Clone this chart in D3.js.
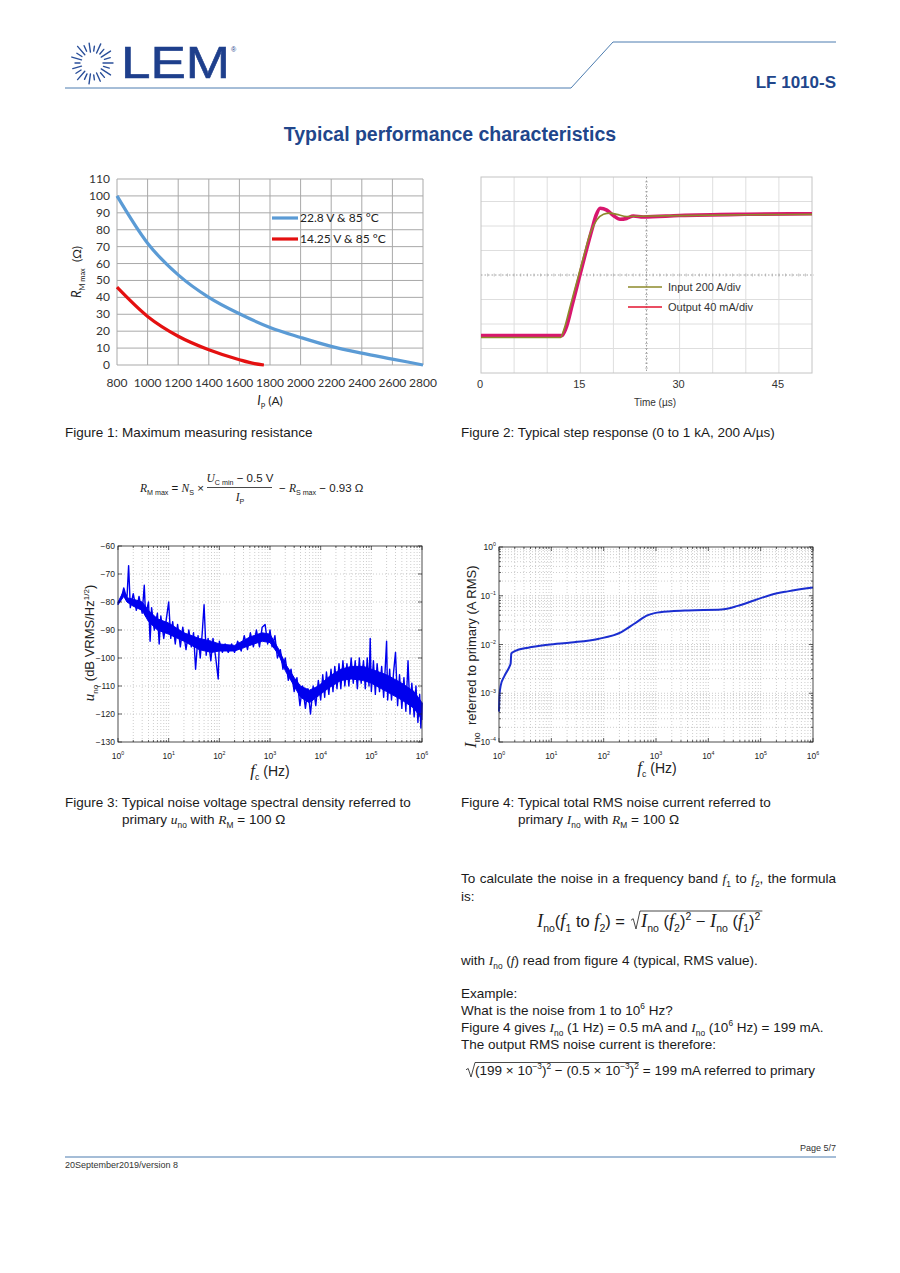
<!DOCTYPE html>
<html>
<head>
<meta charset="utf-8">
<script src="https://cdn.jsdelivr.net/npm/d3@7"></script>
<style>
  body { margin: 0; background: #fff; }
  svg { display: block; }
  text { white-space: pre; }
</style>
</head>
<body>
<div id="page"></div>
<script>
const SANS = "'Liberation Sans', Arial, sans-serif";
const SERIF = "'Liberation Serif', 'Times New Roman', serif";
const CAL = "Lato, 'Open Sans', sans-serif";
const NAVY = "#21468b";
const RULE = "#4d7db0";
const INK = "#1a1a1a";

// ---------- figure 1 : max measuring resistance
const ipBlue = [800, 1000, 1200, 1400, 1600, 1800, 2000, 2200, 2400, 2600, 2800];
const rmBlue = [100, 72, 53.3, 40, 30.3, 22.2, 16.3, 11, 7, 3.5, 0];
const ipRed = [800, 1000, 1200, 1400, 1600, 1700, 1760];
const rmRed = [46, 28.7, 17, 9, 3.1, 0.8, 0];
const fig1Legend = ["22.8 V & 85 °C", "14.25 V & 85 °C"];
const fig1XTicks = [800, 1000, 1200, 1400, 1600, 1800, 2000, 2200, 2400, 2600, 2800];
const fig1YTicks = [0, 10, 20, 30, 40, 50, 60, 70, 80, 90, 100, 110];

// ---------- figure 2 : step response (input in A, output scaled to the same divisions)
const stepTIn = [0, 12.0, 12.5, 13.5, 14.5, 15.5, 16.5, 17.5, 18.5, 19.5, 20.5, 22, 24, 30, 40, 50];
const inputA = [-10, -10, 50, 250, 450, 650, 840, 950, 995, 1005, 995, 978, 980, 985, 992, 995];
const stepTOut = [0, 12.2, 12.8, 13.8, 14.8, 15.8, 16.8, 17.4, 18.0, 19.0, 20.0, 21.0, 22.0, 23.0, 24.5, 30, 40, 50];
const outputA = [5, 5, 60, 260, 470, 680, 880, 990, 1045, 1030, 985, 955, 962, 982, 974, 986, 996, 1000];
const fig2XTicks = [0, 15, 30, 45];
const fig2Legend = ["Input 200 A/div", "Output 40 mA/div"];

// ---------- figure 3 : noise voltage spectral density, read as a zig-zag trace
const noiseF = [
  1, 1.15, 1.3, 1.5, 1.62, 1.75, 2.0, 2.3, 2.6, 3.0, 3.3, 3.5, 4.0, 4.3, 4.6, 5.2, 6.0, 6.5, 7.0, 8.0, 9.0,
  10, 11, 12, 13.5, 15, 17, 19, 22, 25, 28, 31, 34, 38, 42, 46, 50, 55, 60, 68, 75, 85, 95,
  100, 115, 130, 150, 175, 200, 230, 270, 310, 360, 410, 470, 540, 620, 700, 800, 900,
  1000, 1100, 1250, 1400, 1600, 1800, 2000, 2300, 2600, 3000, 3400, 3900, 4400, 5000, 5600, 6300, 7100, 8000, 9000,
  10000, 11000, 12000, 13000, 14500, 16000, 17500, 19000, 21000, 23000, 25000, 27500, 30000, 33000, 36000,
  40000, 44000, 48000, 53000, 58000, 63000, 70000, 76000, 83000, 90000, 95000,
  100000, 110000, 120000, 130000, 145000, 160000, 175000, 190000, 200000, 210000, 230000, 250000, 275000,
  300000, 330000, 360000, 400000, 440000, 480000, 530000, 580000, 630000, 700000, 760000, 830000, 900000,
  950000, 1000000];
const noiseDb = [
  -80.5, -79, -75, -79, -67, -82, -77, -83, -78, -84, -74, -85, -80, -94, -82, -90, -84, -95, -85, -93, -86,
  -80, -93, -87, -95, -88, -96, -89, -97, -90, -96, -91, -104, -92, -100, -91, -81, -99, -93, -101, -93, -100, -107.5,
  -94, -98, -95, -98, -95, -98, -94, -97.5, -92, -97, -91, -96, -90, -96, -89, -88, -95,
  -90, -96, -92, -100, -97, -104, -100, -108, -104, -112, -107, -117, -110, -118, -111, -120, -110, -117, -108,
  -115, -106, -114, -105, -113, -104, -112, -103, -111, -102, -111, -101, -110, -102, -110,
  -100, -109, -101, -111, -100, -109, -101, -111, -100, -110, -93,
  -112, -101, -113, -102, -112, -103, -114, -102, -94, -115, -104, -115, -105,
  -98, -117, -106, -118, -107, -119, -101, -120, -109, -121, -110, -123, -113,
  -125, -116];
// dense core of the trace
const coreF = [1, 1.3, 1.5, 2, 3, 4, 6, 10, 20, 40, 70, 100, 200, 400, 700, 1000, 1500, 2000, 3000, 4000, 6000, 9000,
  15000, 25000, 40000, 70000, 100000, 200000, 400000, 700000, 1000000];
const coreHi = [-80, -76, -78.5, -79, -80, -83, -86, -87.5, -91, -93, -94, -95, -95.5, -92.5, -91, -91.5, -97, -102, -107,
  -110, -111.5, -110, -106.5, -104, -103, -103, -104, -106, -109, -112, -116];
const coreLo = [-81, -78, -80, -81.5, -83, -87, -90, -91.5, -94, -97, -98, -97.5, -97.5, -95.5, -94, -94.5, -99, -104.5, -110,
  -114, -116, -113.5, -110.5, -108, -107.5, -108, -109, -112, -115, -118, -122];
const fig3YTicks = [-130, -120, -110, -100, -90, -80, -70, -60];
const decades = [1, 10, 100, 1000, 10000, 100000, 1000000];

// ---------- figure 4 : total RMS noise current
const inoF = [1.0, 1.02, 1.08, 1.28, 1.6, 1.67, 1.72, 2.0, 3.6, 8.6, 24, 78, 218, 391, 700, 940, 1960, 4100,
  17700, 36600, 77000, 160000, 330000, 1000000];
const inoA = [4.2e-4, 9e-4, 1.45e-3, 2.3e-3, 3.6e-3, 4.1e-3, 6.6e-3, 7.3e-3, 8.6e-3, 9.9e-3, 1.1e-2, 1.3e-2, 1.8e-2,
  2.7e-2, 4.0e-2, 4.4e-2, 4.8e-2, 5.0e-2, 5.2e-2, 6.2e-2, 8.1e-2, 0.105, 0.123, 0.147];
const fig4YTicks = [1e-4, 1e-3, 1e-2, 1e-1, 1];

const svg = d3.select("#page").append("svg")
  .attr("width", 900).attr("height", 1273);
svg.append("rect").attr("width", 900).attr("height", 1273).attr("fill", "#fff");

// text with sub/superscripts and italic maths
function rich(parent, x, y, parts, o) {
  o = o || {};
  const size = o.size || 13.5;
  const t = parent.append("text").attr("x", x).attr("y", y)
    .attr("font-family", o.family || SANS).attr("font-size", size)
    .attr("fill", o.fill || INK)
    .attr("text-anchor", o.anchor || "start");
  if (o.weight) t.attr("font-weight", o.weight);
  if (o.transform) t.attr("transform", o.transform);
  let shift = 0;
  parts.forEach(p => {
    if (typeof p === "string") p = {t: p};
    const s = t.append("tspan").text(p.t);
    const fs = p.size || ((p.sub || p.sup) ? size * 0.62 : size);
    const target = p.sub ? size * 0.3 : p.sup ? -size * 0.42 : 0;
    if (target - shift !== 0) s.attr("dy", target - shift);
    shift = target;
    s.attr("font-size", fs);
    if (p.i) s.attr("font-family", p.fam || SERIF).attr("font-style", "italic");
    else if (p.fam) s.attr("font-family", p.fam);
  });
  return t;
}

function justify(sel, width) {
  const node = sel.node();
  const len = node.getComputedTextLength();
  const spaces = (node.textContent.match(/ /g) || []).length;
  if (spaces) sel.attr("word-spacing", (width - len) / spaces);
}

function radical(parent, x0, yb, h, len) {
  parent.append("path")
    .attr("d", `M${x0},${yb - h * 0.42} L${x0 + 2.2},${yb - h * 0.52} L${x0 + 5},${yb + 2} L${x0 + 9},${yb - h} L${x0 + 9 + len},${yb - h}`)
    .attr("fill", "none").attr("stroke", "#333").attr("stroke-width", 0.9);
}

// ---------- header
const logo = svg.append("g").attr("transform", "translate(92,63)");
const rayIn = [11, 12, 11, 13, 11, 12];
const rayOut = [21, 18, 22, 19, 20, 17];
logo.selectAll("line").data(d3.range(22)).join("line")
  .attr("x1", i => Math.cos(i * Math.PI / 11) * rayIn[i % 6])
  .attr("y1", i => Math.sin(i * Math.PI / 11) * rayIn[i % 6])
  .attr("x2", i => Math.cos(i * Math.PI / 11) * rayOut[i % 6])
  .attr("y2", i => Math.sin(i * Math.PI / 11) * rayOut[i % 6])
  .attr("stroke", "#2a4f9a").attr("stroke-width", 1.4).attr("stroke-linecap", "round");
svg.append("text").attr("x", 121).attr("y", 78).text("LEM")
  .attr("font-family", SANS).attr("font-size", 44).attr("fill", "#1e3f8c")
  .attr("stroke", "#1e3f8c").attr("stroke-width", 0.6)
  .attr("textLength", 109).attr("lengthAdjust", "spacingAndGlyphs");
svg.append("text").attr("x", 231).attr("y", 52).text("®")
  .attr("font-family", SANS).attr("font-size", 7).attr("fill", "#1e3f8c");
svg.append("path").attr("d", "M65,88 L571,88 L613,42 L836,42")
  .attr("fill", "none").attr("stroke", RULE).attr("stroke-width", 1);
svg.append("text").attr("x", 836).attr("y", 88).attr("text-anchor", "end").text("LF 1010-S")
  .attr("font-family", SANS).attr("font-weight", "bold").attr("font-size", 17).attr("fill", NAVY);
svg.append("text").attr("x", 450).attr("y", 141).attr("text-anchor", "middle")
  .text("Typical performance characteristics")
  .attr("font-family", SANS).attr("font-weight", "bold").attr("font-size", 19.5).attr("fill", NAVY);

// ---------- figure 1
const f1 = svg.append("g");
const x1 = d3.scaleLinear().domain([800, 2800]).range([117, 423]);
const y1 = d3.scaleLinear().domain([0, 110]).range([365, 179]);
f1.selectAll(".gv").data(fig1XTicks).join("line").attr("class", "gv")
  .attr("x1", d => x1(d)).attr("x2", d => x1(d)).attr("y1", y1(110)).attr("y2", y1(0))
  .attr("stroke", "#a9a9a9").attr("stroke-width", 1);
f1.selectAll(".gh").data(fig1YTicks).join("line").attr("class", "gh")
  .attr("y1", d => y1(d)).attr("y2", d => y1(d)).attr("x1", x1(800)).attr("x2", x1(2800))
  .attr("stroke", "#a9a9a9").attr("stroke-width", 1);
f1.selectAll(".xl").data(fig1XTicks).join("text").attr("class", "xl")
  .attr("x", d => x1(d)).attr("y", 387).attr("text-anchor", "middle").text(d => d)
  .attr("font-family", CAL).attr("font-size", 12).attr("fill", "#333");
f1.selectAll(".yl").data(fig1YTicks).join("text").attr("class", "yl")
  .attr("x", 110).attr("y", d => y1(d) + 4).attr("text-anchor", "end").text(d => d)
  .attr("font-family", CAL).attr("font-size", 12).attr("fill", "#333");
const line1 = d3.line().curve(d3.curveMonotoneX).x(d => x1(d[0])).y(d => y1(d[1]));
f1.append("path").datum(d3.zip(ipBlue, rmBlue)).attr("d", line1)
  .attr("fill", "none").attr("stroke", "#5b9bd5").attr("stroke-width", 3.2);
f1.append("path").datum(d3.zip(ipRed, rmRed)).attr("d", line1)
  .attr("fill", "none").attr("stroke", "#e41010").attr("stroke-width", 3.2);
const leg1Colors = ["#5b9bd5", "#e41010"];
fig1Legend.forEach((s, i) => {
  const yy = 218 + i * 21;
  f1.append("line").attr("x1", 272).attr("x2", 298).attr("y1", yy).attr("y2", yy)
    .attr("stroke", leg1Colors[i]).attr("stroke-width", 3.2);
  f1.append("text").attr("x", 300).attr("y", yy + 4).text(s)
    .attr("font-family", CAL).attr("font-size", 12).attr("fill", "#222");
});
rich(f1, 81, 272, [{t: "R", i: 1, fam: CAL, size: 13}, {t: "M max", sub: 1, fam: CAL}, "  (Ω)"],
  {family: CAL, size: 12, anchor: "middle", transform: "rotate(-90,81,272)", fill: "#222"});
rich(f1, 270, 405, [{t: "I", i: 1, fam: CAL, size: 13}, {t: "P", sub: 1, fam: CAL}, " (A)"],
  {family: CAL, size: 12, anchor: "middle", fill: "#222"});

// ---------- figure 2
const f2 = svg.append("g");
const x2 = d3.scaleLinear().domain([0, 50]).range([481, 812]);
const y2 = d3.scaleLinear().domain([-300, 1300]).range([373, 177]);
f2.selectAll(".gv").data(d3.range(5, 50, 5).filter(d => d !== 25)).join("line").attr("class", "gv")
  .attr("x1", d => x2(d)).attr("x2", d => x2(d)).attr("y1", y2(1300)).attr("y2", y2(-300))
  .attr("stroke", "#dedede");
f2.selectAll(".gh").data(d3.range(-100, 1300, 200).filter(d => d !== 500)).join("line").attr("class", "gh")
  .attr("y1", d => y2(d)).attr("y2", d => y2(d)).attr("x1", x2(0)).attr("x2", x2(50))
  .attr("stroke", "#dedede");
f2.append("rect").attr("x", x2(0)).attr("y", y2(1300)).attr("width", x2(50) - x2(0)).attr("height", y2(-300) - y2(1300))
  .attr("fill", "none").attr("stroke", "#c4c4c4");
f2.append("line").attr("x1", x2(25)).attr("x2", x2(25)).attr("y1", y2(1300)).attr("y2", y2(-300))
  .attr("stroke", "#a0a0a0").attr("stroke-dasharray", "1.5,2");
f2.append("line").attr("y1", y2(500)).attr("y2", y2(500)).attr("x1", x2(0)).attr("x2", x2(50) + 2)
  .attr("stroke", "#a0a0a0").attr("stroke-dasharray", "1.5,2");
f2.selectAll(".th").data(d3.range(1, 50, 1)).join("line").attr("class", "th")
  .attr("x1", d => x2(d)).attr("x2", d => x2(d)).attr("y1", y2(500) - 1.5).attr("y2", y2(500) + 1.5)
  .attr("stroke", "#a8a8a8").attr("stroke-width", 0.7);
f2.selectAll(".tv").data(d3.range(-260, 1300, 40)).join("line").attr("class", "tv")
  .attr("y1", d => y2(d)).attr("y2", d => y2(d)).attr("x1", x2(25) - 1.5).attr("x2", x2(25) + 1.5)
  .attr("stroke", "#a8a8a8").attr("stroke-width", 0.7);
const line2 = d3.line().curve(d3.curveMonotoneX).x(d => x2(d[0])).y(d => y2(d[1]));
f2.append("path").datum(d3.zip(stepTOut, outputA)).attr("d", line2)
  .attr("fill", "none").attr("stroke", "#d8176e").attr("stroke-width", 3.6);
f2.append("path").datum(d3.zip(stepTIn, inputA)).attr("d", line2)
  .attr("fill", "none").attr("stroke", "#8c8a2a").attr("stroke-width", 1.6);
f2.selectAll(".xl").data(fig2XTicks).join("text").attr("class", "xl")
  .attr("x", d => x2(d) - 1).attr("y", 388).attr("text-anchor", "middle").text(d => d)
  .attr("font-family", SANS).attr("font-size", 11).attr("fill", "#333");
f2.append("text").attr("x", 655).attr("y", 406).attr("text-anchor", "middle").text("Time (µs)")
  .attr("font-family", SANS).attr("font-size", 10).attr("fill", "#333");
const leg2Colors = ["#8c8a2a", "#e3132f"];
fig2Legend.forEach((s, i) => {
  const yy = 287 + i * 20;
  f2.append("line").attr("x1", 628).attr("x2", 662).attr("y1", yy).attr("y2", yy)
    .attr("stroke", leg2Colors[i]).attr("stroke-width", 1.3);
  f2.append("text").attr("x", 668).attr("y", yy + 4).text(s)
    .attr("font-family", SANS).attr("font-size", 11).attr("fill", "#333");
});

// ---------- captions row 1 and formula
rich(svg, 65, 437, ["Figure 1: Maximum measuring resistance"]);
rich(svg, 461, 437, ["Figure 2: Typical step response (0 to 1 kA, 200 A/µs)"]);
rich(svg, 140, 492, [{t: "R", i: 1}, {t: "M max", sub: 1}, " = ", {t: "N", i: 1}, {t: "S", sub: 1}, " ×"], {size: 11.5});
rich(svg, 240, 482, [{t: "U", i: 1}, {t: "C min", sub: 1}, " − 0.5 V"], {size: 11.5, anchor: "middle"});
svg.append("line").attr("x1", 207).attr("x2", 272).attr("y1", 487.5).attr("y2", 487.5)
  .attr("stroke", INK).attr("stroke-width", 0.8);
rich(svg, 240, 501, [{t: "I", i: 1}, {t: "P", sub: 1}], {size: 11.5, anchor: "middle"});
rich(svg, 279, 492, ["− ", {t: "R", i: 1}, {t: "S max", sub: 1}, " − 0.93 Ω"], {size: 11.5});

// ---------- figure 3
const f3 = svg.append("g");
const x3 = d3.scaleLog().domain([1, 1e6]).range([118, 422]);
const y3 = d3.scaleLinear().domain([-130, -60]).range([742, 546]);
f3.selectAll(".gv").data(x3.ticks().filter(d => d > 1 && d < 1e6)).join("line").attr("class", "gv")
  .attr("x1", d => x3(d)).attr("x2", d => x3(d)).attr("y1", 546).attr("y2", 742)
  .attr("stroke", "#b8b8b8").attr("stroke-width", 0.7).attr("stroke-dasharray", "1,2");
f3.selectAll(".gh").data(fig3YTicks.slice(1, -1)).join("line").attr("class", "gh")
  .attr("y1", d => y3(d)).attr("y2", d => y3(d)).attr("x1", 118).attr("x2", 422)
  .attr("stroke", "#b8b8b8").attr("stroke-width", 0.7).attr("stroke-dasharray", "1,2");
const core = d3.area().x(d => x3(d[0])).y0(d => y3(d[2])).y1(d => y3(d[1]));
f3.append("path").datum(d3.zip(coreF, coreHi, coreLo)).attr("d", core)
  .attr("fill", "#0000ee").attr("stroke", "#0000ee").attr("stroke-width", 1);
const trace3 = d3.line().x(d => x3(d[0])).y(d => y3(d[1]));
f3.append("path").datum(d3.zip(noiseF, noiseDb)).attr("d", trace3)
  .attr("fill", "none").attr("stroke", "#0000ee").attr("stroke-width", 1.4).attr("stroke-linejoin", "round");
f3.append("rect").attr("x", 118).attr("y", 546).attr("width", 304).attr("height", 196)
  .attr("fill", "none").attr("stroke", "#222").attr("stroke-width", 0.8);
x3.ticks().forEach(d => {
  const len = decades.includes(d) ? 4 : 2;
  f3.append("line").attr("x1", x3(d)).attr("x2", x3(d)).attr("y1", 742).attr("y2", 742 - len).attr("stroke", "#222").attr("stroke-width", 0.7);
  f3.append("line").attr("x1", x3(d)).attr("x2", x3(d)).attr("y1", 546).attr("y2", 546 + len).attr("stroke", "#222").attr("stroke-width", 0.7);
});
fig3YTicks.forEach(d => {
  f3.append("line").attr("x1", 118).attr("x2", 122).attr("y1", y3(d)).attr("y2", y3(d)).attr("stroke", "#222").attr("stroke-width", 0.7);
  f3.append("line").attr("x1", 422).attr("x2", 418).attr("y1", y3(d)).attr("y2", y3(d)).attr("stroke", "#222").attr("stroke-width", 0.7);
  f3.append("text").attr("x", 115).attr("y", y3(d) + 3).attr("text-anchor", "end").text("−" + Math.abs(d))
    .attr("font-family", SANS).attr("font-size", 8.5).attr("fill", "#222");
});
decades.forEach(d => {
  rich(f3, x3(d), 759, ["10", {t: String(Math.round(Math.log10(d))), sup: 1}], {size: 8.5, anchor: "middle", fill: "#222"});
});
rich(f3, 94, 643, [{t: "u", i: 1, size: 15}, {t: "no", sub: 1}, " (dB VRMS/Hz", {t: "1/2", sup: 1}, ")"],
  {size: 13, anchor: "middle", transform: "rotate(-90,94,643)", fill: "#222"});
rich(f3, 270, 776, [{t: "f", i: 1, size: 17}, {t: "c", sub: 1}, " (Hz)"], {size: 14, anchor: "middle", fill: "#222"});

// ---------- figure 4
const f4 = svg.append("g");
const x4 = d3.scaleLog().domain([1, 1e6]).range([499, 813]);
const y4 = d3.scaleLog().domain([1e-4, 1]).range([742, 547]);
f4.selectAll(".gv").data(x4.ticks().filter(d => d > 1 && d < 1e6)).join("line").attr("class", "gv")
  .attr("x1", d => x4(d)).attr("x2", d => x4(d)).attr("y1", 547).attr("y2", 742)
  .attr("stroke", "#b8b8b8").attr("stroke-width", 0.7).attr("stroke-dasharray", "1,2");
f4.selectAll(".gh").data(y4.ticks().filter(d => d > 1e-4 && d < 1)).join("line").attr("class", "gh")
  .attr("y1", d => y4(d)).attr("y2", d => y4(d)).attr("x1", 499).attr("x2", 813)
  .attr("stroke", "#b8b8b8").attr("stroke-width", 0.7).attr("stroke-dasharray", "1,2");
const line4 = d3.line().curve(d3.curveMonotoneX).x(d => x4(d[0])).y(d => y4(d[1]));
f4.append("path").datum(d3.zip(inoF, inoA)).attr("d", line4)
  .attr("fill", "none").attr("stroke", "#1b2ed0").attr("stroke-width", 2);
f4.append("rect").attr("x", 499).attr("y", 547).attr("width", 314).attr("height", 195)
  .attr("fill", "none").attr("stroke", "#222").attr("stroke-width", 0.8);
x4.ticks().forEach(d => {
  const len = decades.includes(d) ? 4 : 2;
  f4.append("line").attr("x1", x4(d)).attr("x2", x4(d)).attr("y1", 742).attr("y2", 742 - len).attr("stroke", "#222").attr("stroke-width", 0.7);
  f4.append("line").attr("x1", x4(d)).attr("x2", x4(d)).attr("y1", 547).attr("y2", 547 + len).attr("stroke", "#222").attr("stroke-width", 0.7);
});
y4.ticks().forEach(d => {
  const len = fig4YTicks.includes(d) ? 4 : 2;
  f4.append("line").attr("x1", 499).attr("x2", 499 + len).attr("y1", y4(d)).attr("y2", y4(d)).attr("stroke", "#222").attr("stroke-width", 0.7);
  f4.append("line").attr("x1", 813).attr("x2", 813 - len).attr("y1", y4(d)).attr("y2", y4(d)).attr("stroke", "#222").attr("stroke-width", 0.7);
});
fig4YTicks.forEach(d => {
  const e = Math.round(Math.log10(d));
  rich(f4, 496, y4(d) + 3, ["10", {t: e < 0 ? "−" + Math.abs(e) : String(e), sup: 1}], {size: 8.5, anchor: "end", fill: "#222"});
});
decades.forEach(d => {
  rich(f4, x4(d), 759, ["10", {t: String(Math.round(Math.log10(d))), sup: 1}], {size: 8.5, anchor: "middle", fill: "#222"});
});
rich(f4, 476, 748, [{t: "I", i: 1, size: 17}, {t: "no", sub: 1, size: 9}, "  referred to primary (A RMS)"],
  {size: 13, transform: "rotate(-90,476,748)", fill: "#222"});
rich(f4, 657, 773, [{t: "f", i: 1, size: 17}, {t: "c", sub: 1}, " (Hz)"], {size: 14, anchor: "middle", fill: "#222"});

// ---------- captions row 2
rich(svg, 65, 807, ["Figure 3: Typical noise voltage spectral density referred to"]);
rich(svg, 122, 824, ["primary ", {t: "u", i: 1}, {t: "no", sub: 1}, " with ", {t: "R", i: 1}, {t: "M", sub: 1}, " = 100 Ω"]);
rich(svg, 461, 807, ["Figure 4: Typical total RMS noise current referred to"]);
rich(svg, 518, 824, ["primary ", {t: "I", i: 1}, {t: "no", sub: 1}, " with ", {t: "R", i: 1}, {t: "M", sub: 1}, " = 100 Ω"]);

// ---------- noise band text
const p1 = rich(svg, 461, 883, ["To calculate the noise in a frequency band ", {t: "f", i: 1}, {t: "1", sub: 1}, " to ",
  {t: "f", i: 1}, {t: "2", sub: 1}, ", the formula"]);
justify(p1, 375);
rich(svg, 461, 901, ["is:"]);

const fa = rich(svg, 537, 927, [{t: "I", i: 1, size: 18.5}, {t: "no", sub: 1, size: 10.5}, "(", {t: "f", i: 1, size: 18.5},
  {t: "1", sub: 1, size: 10.5}, " to ", {t: "f", i: 1, size: 18.5}, {t: "2", sub: 1, size: 10.5}, ") ="], {size: 16.5});
const fax = 537 + fa.node().getComputedTextLength() + 5;
const fb = rich(svg, fax + 11, 927, [{t: "I", i: 1, size: 18.5}, {t: "no", sub: 1, size: 10.5}, " (", {t: "f", i: 1, size: 18.5},
  {t: "2", sub: 1, size: 10.5}, ")", {t: "2", sup: 1, size: 10.5}, " − ", {t: "I", i: 1, size: 18.5}, {t: "no", sub: 1, size: 10.5},
  " (", {t: "f", i: 1, size: 18.5}, {t: "1", sub: 1, size: 10.5}, ")", {t: "2", sup: 1, size: 10.5}], {size: 16.5});
radical(svg, fax + 1, 927, 16, fb.node().getComputedTextLength() + 3);

rich(svg, 461, 965, ["with ", {t: "I", i: 1}, {t: "no", sub: 1}, " (", {t: "f", i: 1}, ") read from figure 4 (typical, RMS value)."]);
rich(svg, 461, 998, ["Example:"]);
rich(svg, 461, 1015, ["What is the noise from 1 to 10", {t: "6", sup: 1}, " Hz?"]);
rich(svg, 461, 1032, ["Figure 4 gives ", {t: "I", i: 1}, {t: "no", sub: 1}, " (1 Hz) = 0.5 mA and ", {t: "I", i: 1},
  {t: "no", sub: 1}, " (10", {t: "6", sup: 1}, " Hz) = 199 mA."]);
rich(svg, 461, 1049, ["The output RMS noise current is therefore:"]);
const ra = rich(svg, 475, 1075, ["(199 × 10", {t: "−3", sup: 1}, ")", {t: "2", sup: 1}, " − (0.5 × 10", {t: "−3", sup: 1},
  ")", {t: "2", sup: 1}]);
const raLen = ra.node().getComputedTextLength();
radical(svg, 466, 1075, 12.5, raLen);
rich(svg, 475 + raLen + 4, 1075, ["= 199 mA referred to primary"]);

// ---------- footer
svg.append("text").attr("x", 836).attr("y", 1151).attr("text-anchor", "end").text("Page 5/7")
  .attr("font-family", SANS).attr("font-size", 9).attr("fill", "#333");
svg.append("line").attr("x1", 65).attr("x2", 836).attr("y1", 1157).attr("y2", 1157)
  .attr("stroke", RULE).attr("stroke-width", 1.2);
svg.append("text").attr("x", 65).attr("y", 1168).text("20September2019/version 8")
  .attr("font-family", SANS).attr("font-size", 9).attr("fill", "#333");
</script>
</body>
</html>
